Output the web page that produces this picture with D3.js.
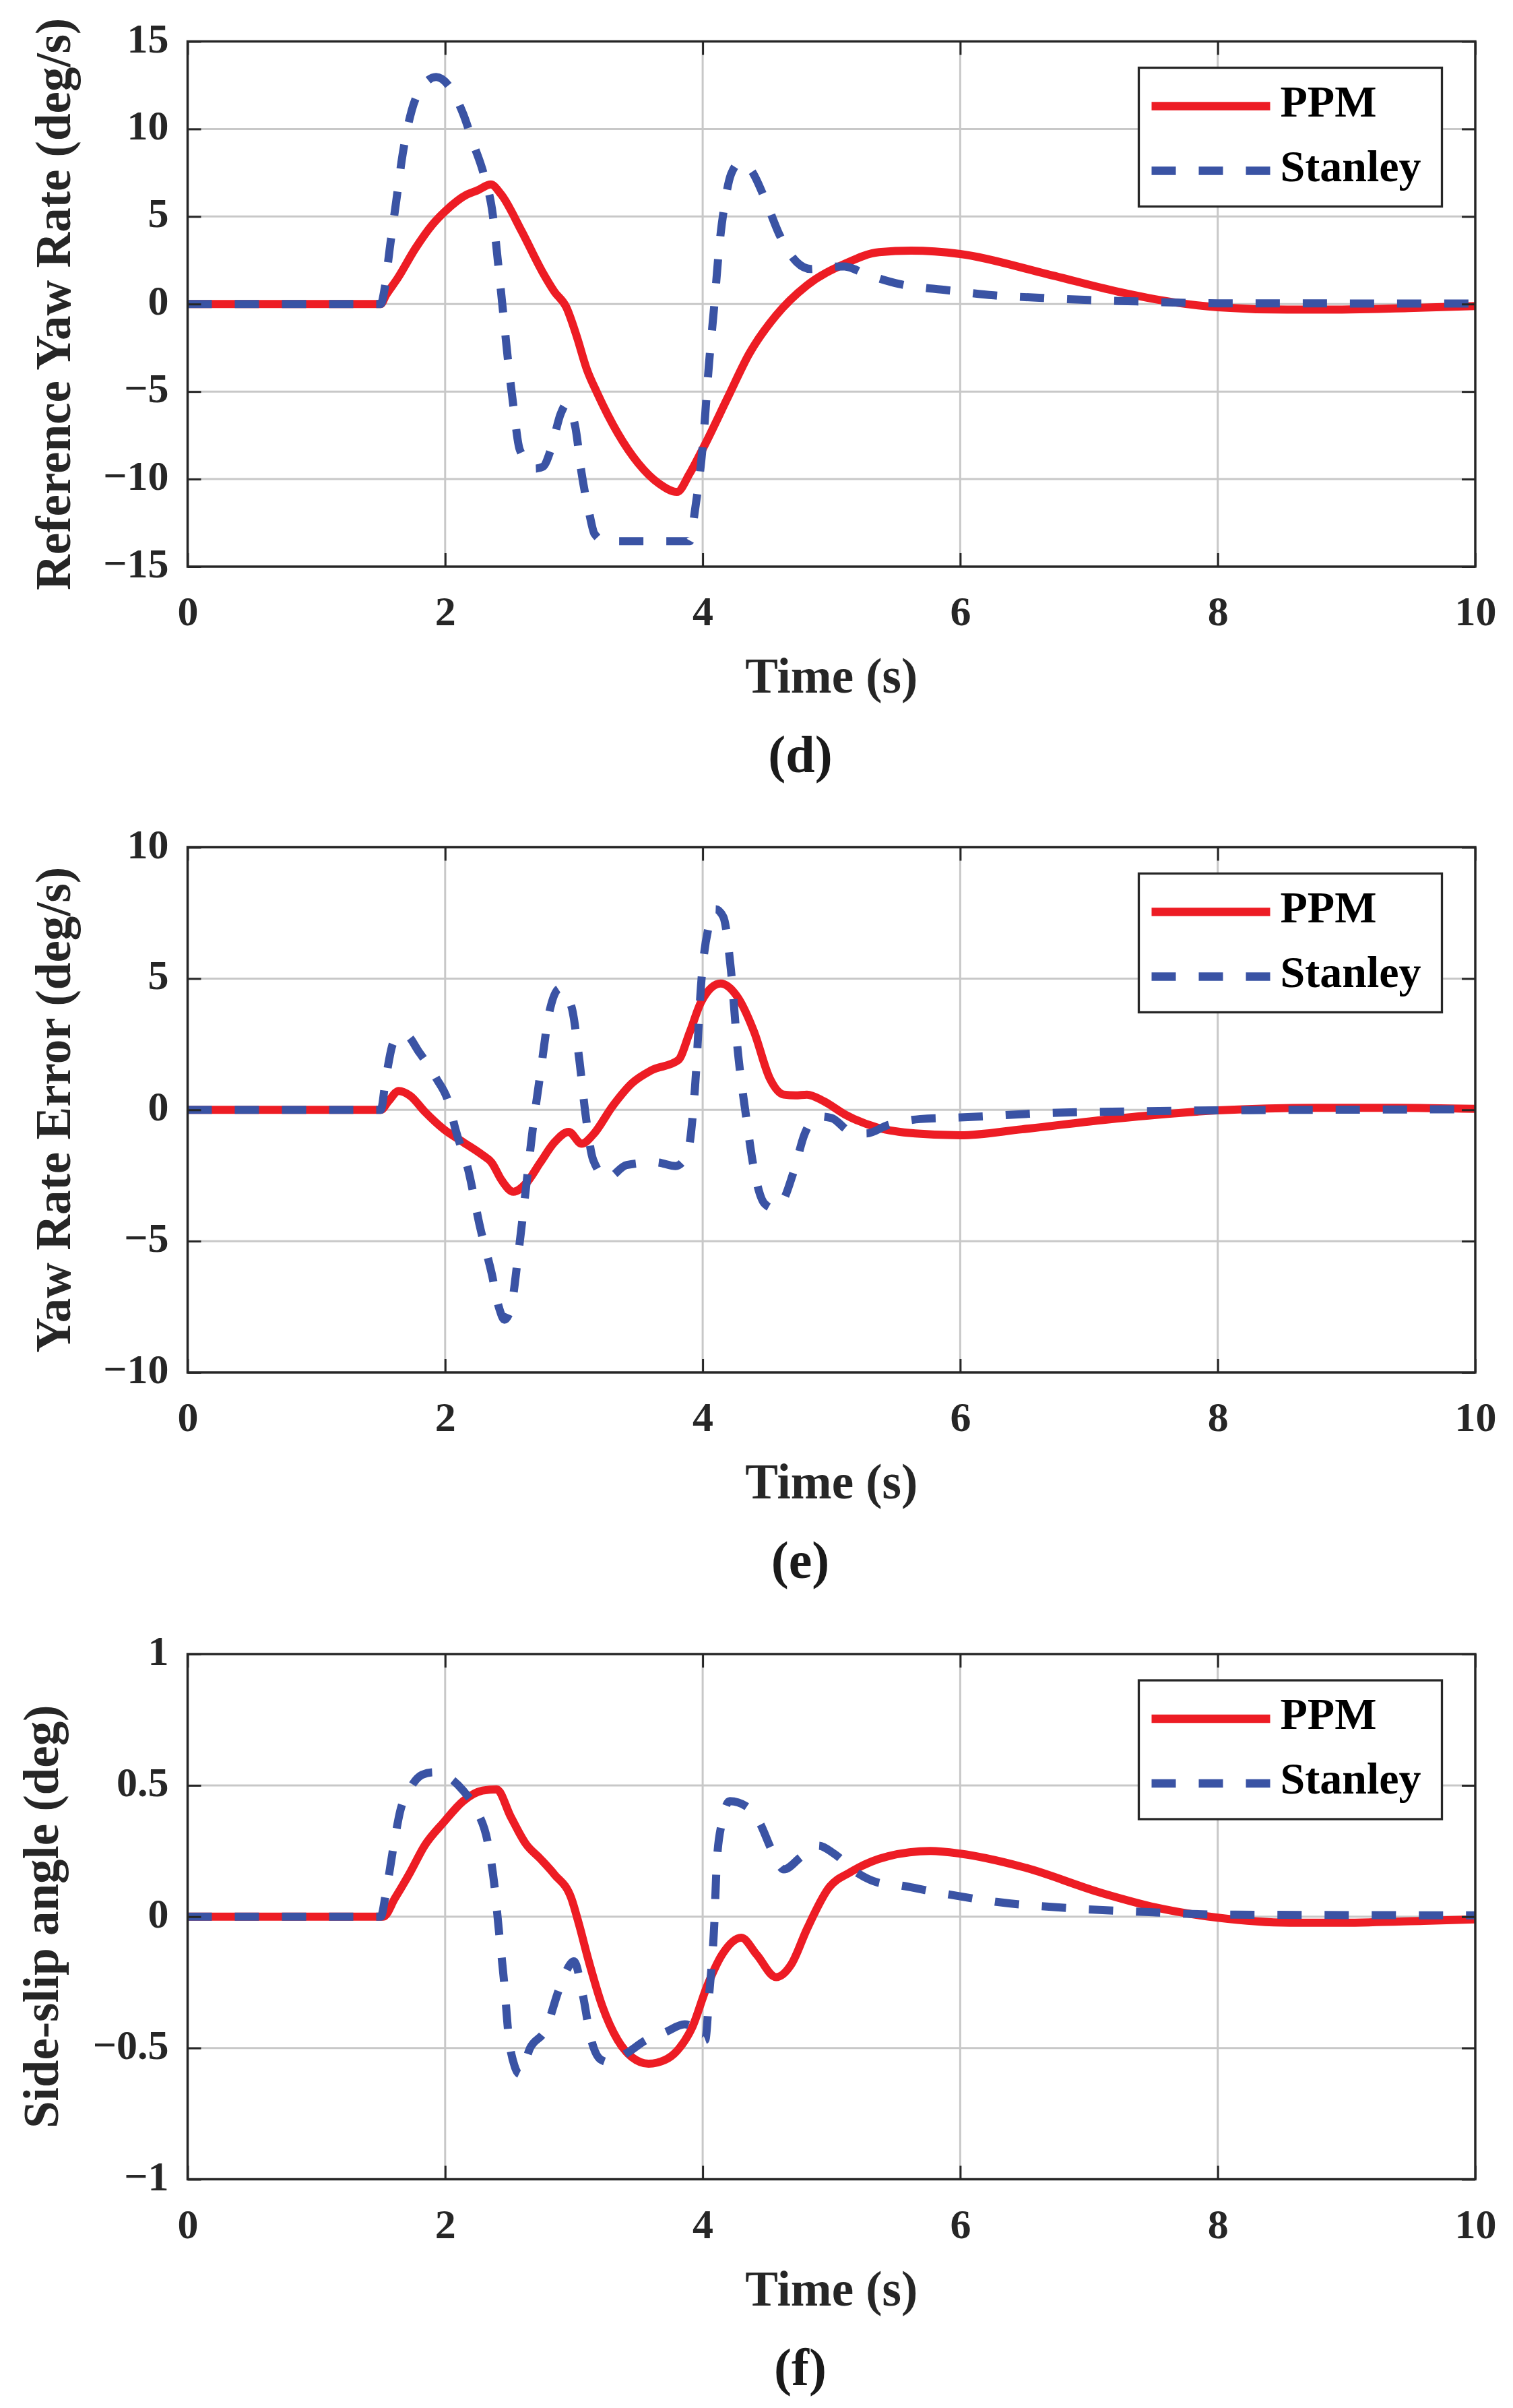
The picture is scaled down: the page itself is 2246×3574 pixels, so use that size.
<!DOCTYPE html>
<html>
<head>
<meta charset="utf-8">
<script src="https://cdn.jsdelivr.net/npm/d3@7"></script>
<style>
  body { margin: 0; background: #fff; }
  svg text { font-family: "Palatino Linotype", "Book Antiqua", Palatino, "Liberation Serif", serif; font-weight: bold; }
</style>
</head>
<body>
<svg id="chart" width="2246" height="3574"></svg>
<script>
// shared time axis
const timeTicks = [0, 2, 4, 6, 8, 10];

// y ticks for each of the three plots
const yawRefTicks = [-15, -10, -5, 0, 5, 10, 15];
const yawErrTicks = [-10, -5, 0, 5, 10];
const slipTicks = [-1, -0.5, 0, 0.5, 1];

const seriesNames = ["PPM", "Stanley"];

// (d) reference yaw rate, [time, deg/s]
const yawRefPPM = [[0,0],[1.5,0],[1.54,0.5],[1.63,1.46],[1.77,3.19],[1.9,4.53],[2.0,5.3],[2.17,6.26],[2.25,6.49],[2.355,6.83],
  [2.435,6.26],[2.595,4.15],[2.755,1.84],[2.85,0.69],[2.94,-0.17],[3.02,-1.8],[3.1,-3.72],[3.18,-5.07],[3.34,-7.37],[3.5,-9.1],
  [3.66,-10.25],[3.8,-10.73],[3.9,-9.67],[4.01,-8.14],[4.2,-5.26],[4.36,-2.86],[4.57,-0.65],[4.81,1.07],[5.11,2.32],[5.37,2.96],
  [5.62,3.05],[6.0,2.86],[6.67,1.72],[7.23,0.7],[7.64,0.12],[8.0,-0.18],[8.54,-0.32],[8.91,-0.32],[9.48,-0.23],[10,-0.12]];
const yawRefStanley = [[0,0],[1.5,0],[1.53,0.88],[1.57,3.19],[1.62,5.87],[1.67,8.56],[1.74,11.05],[1.82,12.4],[1.93,12.97],
  [2.035,12.4],[2.14,10.86],[2.22,9.14],[2.3,7.41],[2.37,5.1],[2.41,2.42],[2.45,-0.46],[2.49,-3.34],[2.53,-5.83],[2.58,-8.33],
  [2.7,-9.4],[2.76,-9.29],[2.82,-8.33],[2.9,-6.22],[2.94,-5.74],[3.01,-6.99],[3.06,-9.67],[3.12,-11.98],[3.16,-13.13],[3.24,-13.55],
  [3.9,-13.55],[3.94,-11.79],[4.0,-8.14],[4.05,-3.34],[4.09,-0.08],[4.13,3.38],[4.17,5.68],[4.22,7.41],[4.29,8.08],[4.38,7.6],
  [4.48,6.07],[4.6,3.9],[4.73,2.4],[4.84,2.0],[4.95,2.1],[5.1,2.15],[5.27,1.7],[5.53,1.14],[5.9,0.79],[6.26,0.5],[6.64,0.35],
  [7.0,0.23],[7.37,0.15],[7.79,0.06],[8.0,0.04],[10,0.03]];

// (e) yaw rate error, [time, deg/s]
const yawErrPPM = [[0,0],[1.5,0],[1.56,0.33],[1.64,0.72],[1.73,0.53],[1.84,-0.06],[1.99,-0.74],[2.14,-1.23],[2.29,-1.72],[2.36,-2.0],
  [2.44,-2.69],[2.53,-3.12],[2.63,-2.79],[2.74,-2.0],[2.85,-1.23],[2.96,-0.84],[3.06,-1.29],[3.15,-0.94],[3.3,0.14],[3.45,1.01],
  [3.6,1.5],[3.81,1.89],[3.9,2.96],[3.99,4.13],[4.14,4.81],[4.27,4.3],[4.4,2.96],[4.52,1.21],[4.63,0.58],[4.72,0.55],[4.81,0.58],
  [4.94,0.33],[5.11,-0.19],[5.36,-0.68],[5.65,-0.9],[6.0,-0.97],[6.48,-0.74],[7.1,-0.39],[7.52,-0.19],[8.0,-0.02],[8.77,0.08],
  [9.39,0.08],[10,0.04]];
const yawErrStanley = [[0,0],[1.5,0],[1.54,1.21],[1.6,2.57],[1.69,2.87],[1.8,2.18],[1.93,1.21],[2.03,0.23],[2.08,-0.74],[2.18,-2.3],
  [2.27,-4.44],[2.36,-6.2],[2.42,-7.56],[2.46,-7.99],[2.51,-7.56],[2.57,-5.42],[2.63,-2.88],[2.68,-0.74],[2.74,1.4],[2.81,3.74],
  [2.89,4.62],[2.98,3.94],[3.04,1.99],[3.09,-0.16],[3.15,-1.91],[3.26,-2.59],[3.41,-2.1],[3.64,-2.0],[3.79,-2.14],[3.88,-1.71],
  [3.94,0.82],[3.99,4.91],[4.05,7.05],[4.1,7.64],[4.16,7.35],[4.22,5.3],[4.27,2.38],[4.34,-0.35],[4.4,-2.3],[4.48,-3.57],[4.55,-3.75],
  [4.61,-3.57],[4.71,-2.3],[4.79,-0.94],[4.9,-0.25],[5.0,-0.31],[5.15,-0.84],[5.27,-0.9],[5.44,-0.58],[5.69,-0.35],[6.0,-0.29],
  [6.69,-0.12],[7.31,-0.06],[8.0,-0.02],[10,0.02]];

// (f) side-slip angle, [time, deg]
const slipPPM = [[0,0],[1.52,0],[1.61,0.07],[1.73,0.17],[1.84,0.27],[1.99,0.36],[2.14,0.44],[2.29,0.48],[2.4,0.485],[2.51,0.38],
  [2.63,0.275],[2.74,0.22],[2.85,0.16],[2.98,0.07],[3.04,-0.03],[3.11,-0.16],[3.22,-0.34],[3.34,-0.47],[3.45,-0.535],[3.58,-0.56],
  [3.71,-0.545],[3.82,-0.5],[3.92,-0.42],[4.03,-0.27],[4.15,-0.145],[4.3,-0.08],[4.42,-0.145],[4.57,-0.23],[4.69,-0.18],[4.81,-0.047],
  [4.98,0.11],[5.15,0.17],[5.44,0.23],[5.77,0.25],[6.0,0.24],[6.48,0.19],[7.1,0.09],[7.52,0.035],[8.0,-0.004],[8.56,-0.023],
  [8.97,-0.023],[9.6,-0.016],[10,-0.01]];
const slipStanley = [[0,0],[1.5,0],[1.54,0.09],[1.6,0.27],[1.65,0.4],[1.73,0.49],[1.82,0.54],[1.91,0.55],[2.03,0.53],[2.14,0.48],
  [2.25,0.4],[2.33,0.285],[2.38,0.13],[2.42,-0.066],[2.46,-0.26],[2.49,-0.44],[2.54,-0.57],[2.58,-0.6],[2.66,-0.5],[2.78,-0.43],
  [2.89,-0.27],[3.0,-0.17],[3.07,-0.3],[3.13,-0.46],[3.21,-0.545],[3.28,-0.555],[3.41,-0.52],[3.56,-0.47],[3.71,-0.44],[3.86,-0.41],
  [3.97,-0.44],[4.02,-0.47],[4.05,-0.3],[4.09,-0.03],[4.11,0.21],[4.15,0.36],[4.21,0.44],[4.34,0.42],[4.44,0.36],[4.54,0.25],
  [4.63,0.18],[4.77,0.23],[4.9,0.27],[5.02,0.24],[5.19,0.17],[5.36,0.13],[5.52,0.12],[5.85,0.09],[6.27,0.057],[6.89,0.031],
  [7.52,0.016],[8.0,0.008],[10,0.005]];

const panels = [
  {top: 61.5, ticks: yawRefTicks, label: "Reference Yaw Rate (deg/s)", labelX: 104, caption: "(d)", data: [yawRefPPM, yawRefStanley]},
  {top: 1257.5, ticks: yawErrTicks, label: "Yaw Rate Error (deg/s)", labelX: 104, caption: "(e)", data: [yawErrPPM, yawErrStanley]},
  {top: 2455, ticks: slipTicks, label: "Side-slip angle (deg)", labelX: 86, caption: "(f)", data: [slipPPM, slipStanley]}
];

const left = 278.5, right = 2190, h = 779.5;
const axisColor = "#262626", gridColor = "#c8c8c8";
const colors = ["#ed1c24", "#3a53a4"];
const dashes = [null, "36,34"];

const svg = d3.select("#chart");
svg.append("rect").attr("width", 2246).attr("height", 3574).attr("fill", "#fff");

const x = d3.scaleLinear().domain([0, 10]).range([left, right]);
const fmt = d => d < 0 ? "\u2212" + Math.abs(d) : String(d);

panels.forEach((p, i) => {
  let g = svg.append("g").attr("transform", `translate(0,${p.top})`);
  let y = d3.scaleLinear().domain(d3.extent(p.ticks)).range([h, 0]);

  // grid
  g.selectAll("line.vgrid").data(timeTicks.slice(1, -1)).enter().append("line")
    .attr("x1", d => x(d)).attr("x2", d => x(d)).attr("y1", 0).attr("y2", h)
    .attr("stroke", gridColor).attr("stroke-width", 3);
  g.selectAll("line.hgrid").data(p.ticks.slice(1, -1)).enter().append("line")
    .attr("x1", left).attr("x2", right).attr("y1", d => y(d)).attr("y2", d => y(d))
    .attr("stroke", gridColor).attr("stroke-width", 3);

  // curves
  let clipId = "clip" + i;
  g.append("clipPath").attr("id", clipId).append("rect")
    .attr("x", left).attr("y", 0).attr("width", right - left).attr("height", h);
  let line = d3.line().x(d => x(d[0])).y(d => y(d[1])).curve(d3.curveMonotoneX);
  p.data.forEach((s, k) => {
    g.append("path").datum(s)
      .attr("clip-path", `url(#${clipId})`)
      .attr("d", line)
      .attr("fill", "none")
      .attr("stroke", colors[k])
      .attr("stroke-width", 12)
      .attr("stroke-linejoin", "round")
      .attr("stroke-dasharray", dashes[k]);
  });

  // axes, ticks pointing inward
  let bottom = g.append("g").attr("transform", `translate(0,${h})`)
    .call(d3.axisBottom(x).tickValues(timeTicks).tickSize(-20).tickSizeOuter(0).tickPadding(43).tickFormat(fmt));
  let leftAx = g.append("g").attr("transform", `translate(${left},0)`)
    .call(d3.axisLeft(y).tickValues(p.ticks).tickSize(-20).tickSizeOuter(0).tickPadding(28).tickFormat(fmt));
  let topAx = g.append("g")
    .call(d3.axisTop(x).tickValues(timeTicks).tickSize(-20).tickSizeOuter(0).tickFormat(""));
  let rightAx = g.append("g").attr("transform", `translate(${right},0)`)
    .call(d3.axisRight(y).tickValues(p.ticks).tickSize(-20).tickSizeOuter(0).tickFormat(""));
  [bottom, leftAx, topAx, rightAx].forEach(a => {
    a.select(".domain").remove();
    a.selectAll(".tick line").attr("stroke", axisColor).attr("stroke-width", 3);
    a.selectAll(".tick text").attr("fill", axisColor).style("font-size", "62px");
  });
  bottom.selectAll(".tick text").attr("dy", "0.71em");
  leftAx.selectAll(".tick text").attr("dy", "0.25em");

  g.append("rect").attr("x", left).attr("y", 0).attr("width", right - left).attr("height", h)
    .attr("fill", "none").attr("stroke", axisColor).attr("stroke-width", 3.5);

  // labels
  g.append("text").attr("x", (left + right) / 2).attr("y", h + 187)
    .attr("text-anchor", "middle").attr("fill", axisColor).style("font-size", "73px").text("Time (s)");
  g.append("text").attr("transform", `translate(${p.labelX},${h / 2}) rotate(-90)`)
    .attr("text-anchor", "middle").attr("fill", axisColor).style("font-size", "73px").text(p.label);
  g.append("text").attr("x", 1188).attr("y", h + 305)
    .attr("text-anchor", "middle").attr("fill", "#1a1a1a").style("font-size", "78px").text(p.caption);

  // legend
  let lg = g.append("g").attr("transform", "translate(1690.5,39)");
  lg.append("rect").attr("width", 450).attr("height", 206)
    .attr("fill", "#fff").attr("stroke", axisColor).attr("stroke-width", 3.3);
  seriesNames.forEach((name, k) => {
    let ly = 57 + k * 96;
    lg.append("line").attr("x1", 19).attr("x2", 195).attr("y1", ly).attr("y2", ly)
      .attr("stroke", colors[k]).attr("stroke-width", 12.5).attr("stroke-dasharray", dashes[k]);
    lg.append("text").attr("x", 210).attr("y", ly + 15).attr("fill", "#000")
      .style("font-size", "66px").text(name);
  });
});
</script>
</body>
</html>
